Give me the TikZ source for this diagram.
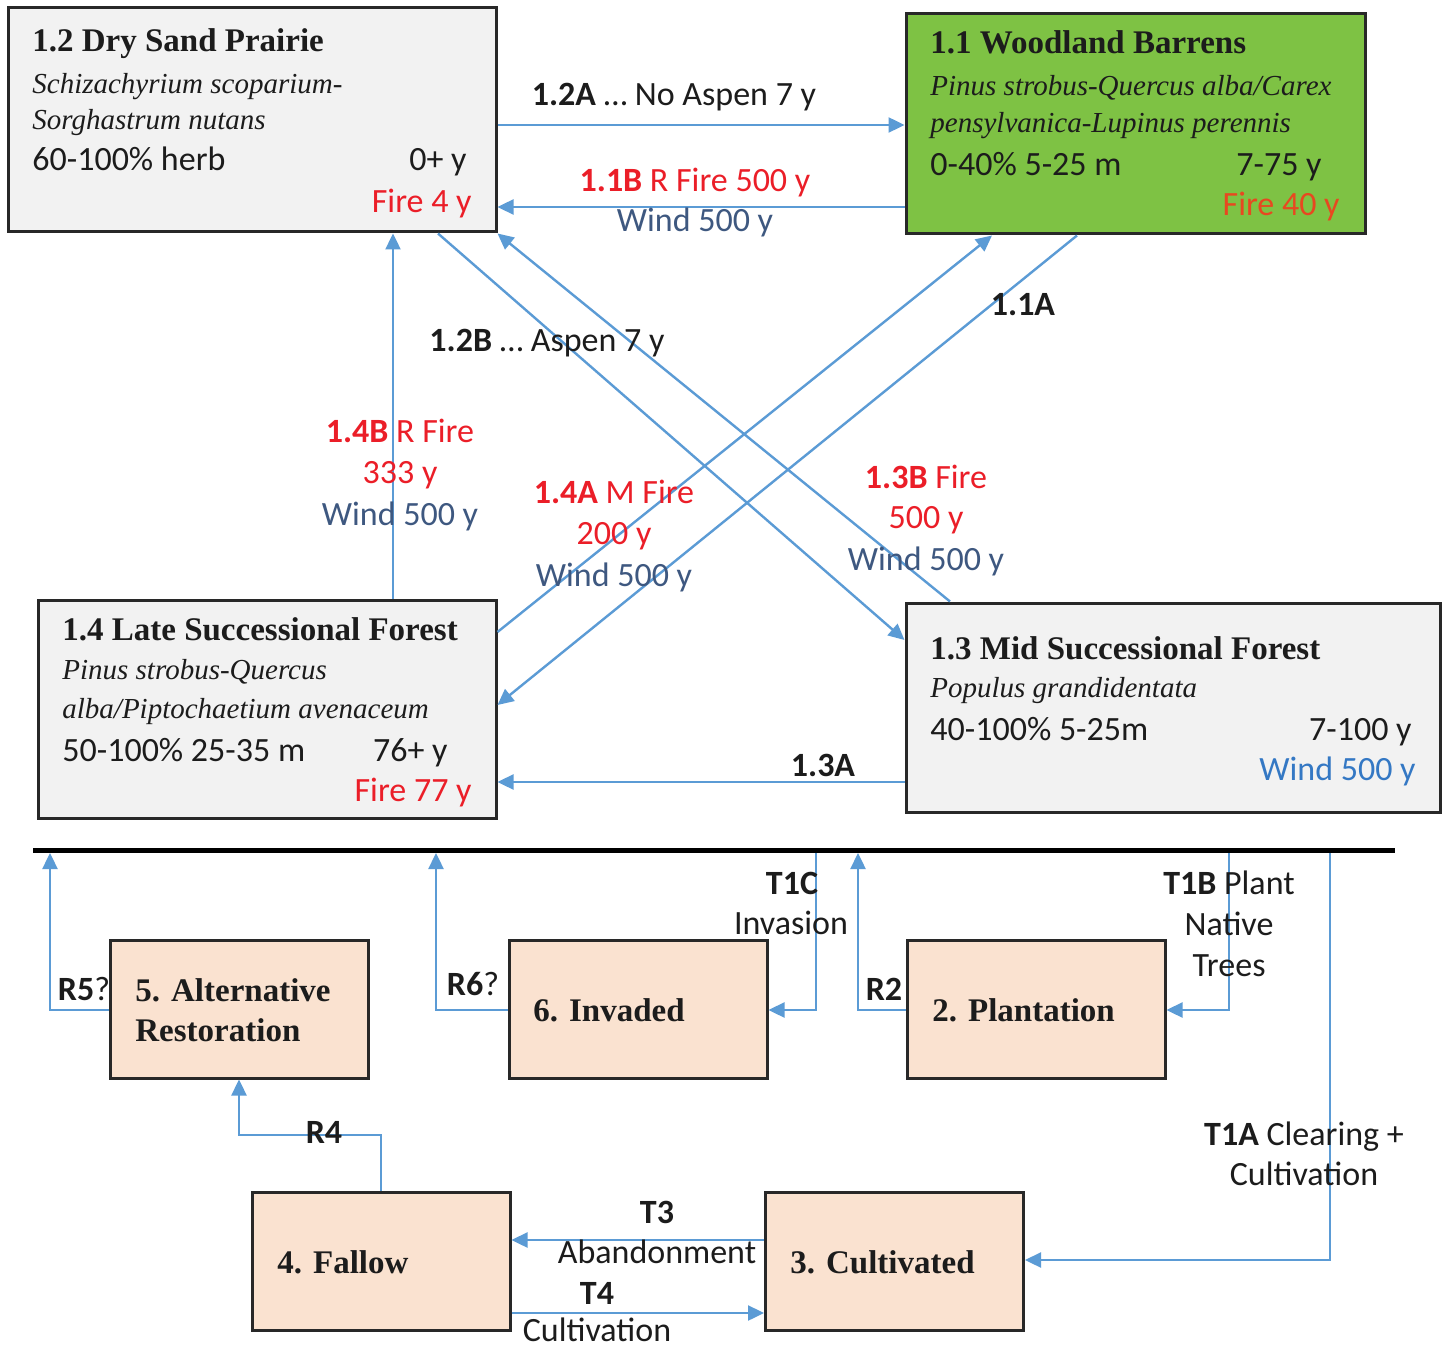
\documentclass[tikz,border=0pt]{standalone}
\usepackage{fontspec}
\setmainfont{Liberation Serif}
\newfontfamily\sansf{Carlito}
\usetikzlibrary{arrows.meta}
\definecolor{arrc}{RGB}{91,155,213}
\definecolor{redt}{RGB}{235,30,40}
\definecolor{oranget}{RGB}{232,72,32}
\definecolor{windt}{RGB}{62,88,128}
\definecolor{windb}{RGB}{52,120,196}
\definecolor{grayf}{RGB}{242,242,242}
\definecolor{greenf}{RGB}{126,194,68}
\definecolor{peachf}{RGB}{250,226,208}
\definecolor{bordc}{RGB}{40,40,40}
\definecolor{textk}{RGB}{28,28,28}
\tikzset{
  box/.style={draw=bordc, line width=1.5pt, inner sep=0pt},
  graybox/.style={box, fill=grayf},
  greenbox/.style={box, fill=greenf},
  peachbox/.style={box, fill=peachf},
  ttl/.style={font=\bfseries\fontsize{16.5}{20}\selectfont, text=textk, inner sep=0pt, anchor=base west},
  ita/.style={font=\itshape\fontsize{14.5}{18}\selectfont, text=textk, inner sep=0pt, anchor=base west},
  sl/.style={font=\sansf\fontsize{17}{20}\selectfont, text=textk, inner sep=0pt, anchor=base west},
  sr/.style={font=\sansf\fontsize{17}{20}\selectfont, text=textk, inner sep=0pt, anchor=base east},
  lbl/.style={font=\sansf\fontsize{17}{20}\selectfont, text=textk, inner sep=0pt, anchor=base},
  arr/.style={draw=arrc, line width=1.2pt, -{Triangle[length=8pt,width=7.5pt]}},
}
\begin{document}
\begin{tikzpicture}[x=0.5pt,y=-0.5pt]
\useasboundingbox (0,0) rectangle (1450,1347);
\fill[white] (0,0) rectangle (1450,1347);

% main state boxes
\node[graybox, minimum width=244pt, minimum height=112pt] (b12) at (252,120) {};
\node[greenbox, minimum width=229.5pt, minimum height=110pt] (b11) at (1135.5,124) {};
\node[graybox, minimum width=229pt, minimum height=109pt] (b14) at (267,709) {};
\node[graybox, minimum width=267pt, minimum height=104.5pt] (b13) at (1173,707.5) {};

% lower boxes
\node[peachbox, minimum width=129pt, minimum height=69pt] (b5) at (239,1009) {};
\node[peachbox, minimum width=129pt, minimum height=69pt] (b6) at (638,1009) {};
\node[peachbox, minimum width=129pt, minimum height=69pt] (b2) at (1036,1009) {};
\node[peachbox, minimum width=129pt, minimum height=69pt] (b4) at (381,1261) {};
\node[peachbox, minimum width=129pt, minimum height=69pt] (b3) at (894.5,1261) {};

% bar
\coordinate (barL) at (33,850);
\coordinate (barR) at (1395,850);
\coordinate (barbot) at (0,853);
\draw[line width=2.5pt, black] (barL) -- (barR);

% texts box 1.2
\node[ttl] (t12a) at (32,52) {1.2 Dry Sand Prairie};
\node[ita] (t12b) at (32,94) {Schizachyrium scoparium-};
\node[ita] (t12c) at (32,130) {Sorghastrum nutans};
\node[sl] (t12d) at (32,171) {60-100\% herb};
\node[sr] (t12e) at (467,171) {0+ y};
\node[sr, text=redt] (t12f) at (472,213) {Fire 4 y};

% texts box 1.1
\node[ttl] (t11a) at (930,54) {1.1 Woodland Barrens};
\node[ita] (t11b) at (930,96) {Pinus strobus-Quercus alba/Carex};
\node[ita] (t11c) at (930,133) {pensylvanica-Lupinus perennis};
\node[sl] (t11d) at (930,176) {0-40\% 5-25 m};
\node[sr] (t11e) at (1322,176) {7-75 y};
\node[sr, text=oranget] (t11f) at (1340,216) {Fire 40 y};

% texts box 1.4
\node[ttl] (t14a) at (62,640) {1.4 Late Successional Forest};
\node[ita] (t14b) at (62,679) {Pinus strobus-Quercus};
\node[ita] (t14c) at (62,718) {alba/Piptochaetium avenaceum};
\node[sl] (t14d) at (62,761) {50-100\% 25-35 m};
\node[sr] (t14e) at (448,761) {76+ y};
\node[sr, text=redt] (t14f) at (472,801) {Fire 77 y};

% texts box 1.3
\node[ttl] (t13a) at (930,659) {1.3 Mid Successional Forest};
\node[ita] (t13b) at (930,697) {Populus grandidentata};
\node[sl] (t13c) at (930,740) {40-100\% 5-25m};
\node[sr] (t13d) at (1412,740) {7-100 y};
\node[sr, text=windb] (t13e) at (1416,780) {Wind 500 y};

% lower box texts
\node[ttl] (t5a) at (135,1001) {5. Alternative};
\node[ttl] (t5b) at (135,1041) {Restoration};
\node[ttl] (t6a) at (533,1021) {6. Invaded};
\node[ttl] (t2a) at (932,1021) {2. Plantation};
\node[ttl] (t4a) at (277,1273) {4. Fallow};
\node[ttl] (t3a) at (790,1273) {3. Cultivated};

% connectors among reference states
\draw[arr] (b12.east |- 0,125) -- (b11.west |- 0,125);
\draw[arr] (b11.west |- 0,207) -- (b12.east |- 0,207);
\draw[arr] (b14.north -| 393,0) -- (b12.south -| 393,0);
\draw[arr] (b12.south -| 438,0) -- (b13.west |- 0,640);
\draw[arr] (b13.north -| 950,0) -- (b12.south east);
\draw[arr] (b14.east |- 0,632) -- (b11.south -| 992,0);
\draw[arr] (b11.south -| 1077,0) -- (b14.east |- 0,705);
\draw[arr] (b13.west |- 0,782) -- (b14.east |- 0,782);

% connectors lower part
\draw[arr] (b5.west |- 0,1010) -| (barbot -| 50,0);
\draw[arr] (b6.west |- 0,1010) -| (barbot -| 436,0);
\draw[arr] (barbot -| 816,0) |- (b6.east |- 0,1010);
\draw[arr] (b2.west |- 0,1010) -| (barbot -| 858,0);
\draw[arr] (barbot -| 1229,0) |- (b2.east |- 0,1010);
\draw[arr] (barbot -| 1330,0) |- (b3.east |- 0,1260);
\draw[arr] (b4.north) |- (b5.south |- 0,1135) -- (b5.south);
\draw[arr] (b3.west |- 0,1240) -- (b4.east |- 0,1240);
\draw[arr] (b4.east |- 0,1313) -- (b3.west |- 0,1313);

% labels
\node[lbl] (l12a) at (674,106) {\textbf{1.2A} … No Aspen 7 y};
\node[lbl, text=redt] (l11b) at (695,192) {\textbf{1.1B} R Fire 500 y};
\node[lbl, text=windt] (l11bw) at (695,232) {Wind 500 y};
\node[lbl] (l12b) at (547,352) {\textbf{1.2B} … Aspen 7 y};
\node[lbl] (l11a) at (1023,316) {\textbf{1.1A}};
\node[lbl, text=redt] (l14b1) at (400,443) {\textbf{1.4B} R Fire};
\node[lbl, text=redt] (l14b2) at (400,484) {333 y};
\node[lbl, text=windt] (l14b3) at (400,525) {Wind 500 y};
\node[lbl, text=redt] (l14a1) at (614,504) {\textbf{1.4A} M Fire};
\node[lbl, text=redt] (l14a2) at (614,545) {200 y};
\node[lbl, text=windt] (l14a3) at (614,586) {Wind 500 y};
\node[lbl, text=redt] (l13b1) at (926,488) {\textbf{1.3B} Fire};
\node[lbl, text=redt] (l13b2) at (926,529) {500 y};
\node[lbl, text=windt] (l13b3) at (926,570) {Wind 500 y};
\node[lbl] (l13a) at (823,776) {\textbf{1.3A}};
\node[lbl] (lr5) at (84,1000) {\textbf{R5}?};
\node[lbl] (lr6) at (473,995) {\textbf{R6}?};
\node[lbl] (lt1c) at (792,894) {\textbf{T1C}};
\node[lbl] (lt1c2) at (791,934) {Invasion};
\node[lbl] (lr2) at (884,1000) {\textbf{R2}};
\node[lbl] (lt1b1) at (1229,894) {\textbf{T1B} Plant};
\node[lbl] (lt1b2) at (1229,935) {Native};
\node[lbl] (lt1b3) at (1229,976) {Trees};
\node[lbl] (lr4) at (324,1143) {\textbf{R4}};
\node[lbl] (lt1a1) at (1304,1145) {\textbf{T1A} Clearing +};
\node[lbl] (lt1a2) at (1304,1185) {Cultivation};
\node[lbl] (lt3a) at (657,1223) {\textbf{T3}};
\node[lbl] (lt3b) at (657,1263) {Abandonment};
\node[lbl] (lt4a) at (597,1304) {\textbf{T4}};
\node[lbl] (lt4b) at (597,1341) {Cultivation};
\end{tikzpicture}
\end{document}
